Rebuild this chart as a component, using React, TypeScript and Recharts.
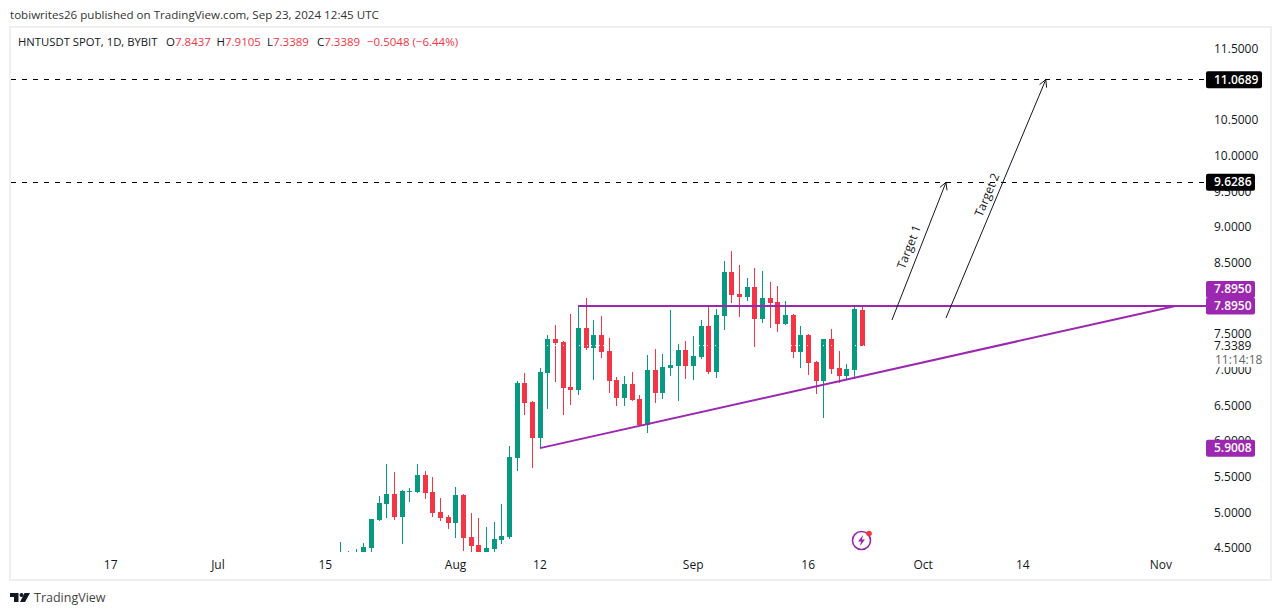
import { ComposedChart, Bar, XAxis, YAxis, ReferenceLine } from 'recharts';

const FONT = '"Open Sans", sans-serif';
const UP = '#089981';
const DOWN = '#f23645';
const PURPLE = '#9c27b0';
const INK = '#131722';

// days counted from Jul 1, first candle is Jul 17
const firstDay = 16;

const opens = [
  4.36, 4.38, 4.38, 4.40, 4.50, 4.89, 5.12, 5.26, 4.93, 5.285,
  5.285, 5.52, 5.285, 5.00, 4.93, 4.85, 5.24, 4.65, 4.54, 4.42,
  4.485, 4.61, 4.65, 5.76, 6.81, 6.55, 6.04, 6.95, 7.43, 7.39,
  6.76, 6.715, 7.585, 7.305, 7.49, 7.26, 6.855, 6.60, 6.80, 6.59,
  6.225, 7.00, 6.67, 7.025, 7.05, 7.28, 7.05, 7.18, 7.61, 6.97,
  7.75, 8.37, 8.06, 8.02, 8.16, 7.71, 8.01, 7.95, 7.64, 7.77,
  7.25, 7.49, 7.11, 6.84, 7.43, 7.025, 6.91, 7.00, 7.8437,
];
const highs = [
  4.58, 4.455, 4.49, 4.57, 4.91, 5.23, 5.68, 5.57, 5.31, 5.34,
  5.68, 5.575, 5.495, 5.20, 4.96, 5.355, 5.26, 4.99, 4.92, 4.79,
  4.86, 5.12, 5.93, 6.84, 6.95, 6.56, 7.02, 7.49, 7.63, 7.40,
  7.78, 7.89, 8.01, 7.70, 7.75, 7.45, 6.90, 6.91, 6.97, 6.65,
  7.21, 7.29, 7.22, 7.84, 7.36, 7.40, 7.47, 7.70, 7.91, 7.85,
  8.53, 8.67, 8.47, 8.29, 8.43, 8.39, 8.23, 8.18, 7.96, 7.78,
  7.61, 7.50, 7.12, 7.43, 7.57, 7.26, 7.08, 7.91, 7.9105,
];
const lows = [
  4.30, 4.32, 4.33, 4.36, 4.43, 4.88, 4.92, 4.89, 4.56, 5.145,
  5.27, 5.19, 4.93, 4.88, 4.77, 4.64, 4.46, 4.43, 4.38, 4.40,
  4.44, 4.56, 4.63, 5.58, 6.37, 5.62, 5.90, 6.45, 6.83, 6.37,
  6.51, 6.65, 7.28, 6.86, 7.16, 6.67, 6.49, 6.49, 6.56, 6.21,
  6.11, 6.53, 6.59, 6.91, 6.56, 6.87, 6.86, 7.15, 6.94, 6.89,
  7.56, 7.94, 7.74, 7.96, 7.32, 7.66, 7.59, 7.53, 7.63, 7.17,
  7.03, 6.93, 6.66, 6.32, 6.94, 6.81, 6.87, 6.87, 7.3389,
];
const closes = [
  4.40, 4.41, 4.42, 4.51, 4.91, 5.13, 5.26, 4.93, 5.30, 5.30,
  5.52, 5.27, 4.99, 4.92, 4.85, 5.24, 4.64, 4.53, 4.40, 4.50,
  4.63, 4.67, 5.78, 6.81, 6.53, 6.04, 6.97, 7.43, 7.375, 6.74,
  6.715, 7.585, 7.305, 7.49, 7.25, 6.84, 6.60, 6.80, 6.575, 6.225,
  7.00, 6.67, 7.04, 7.07, 7.28, 7.05, 7.19, 7.61, 6.97, 7.77,
  8.37, 8.05, 8.02, 8.16, 7.71, 8.01, 7.94, 7.64, 7.77, 7.25,
  7.49, 7.095, 6.84, 7.43, 7.01, 6.91, 7.01, 7.85, 7.3389,
];

const timeTicks = [-14, 0, 14, 31, 42, 62, 77, 92, 105, 123];
const timeLabels = ['17', 'Jul', '15', 'Aug', '12', 'Sep', '16', 'Oct', '14', 'Nov'];
// 8 and 11 are fully hidden behind the price tags in the picture
const priceTicks = [4.5, 5, 5.5, 6, 6.5, 7, 7.5, 8.5, 9, 9.5, 10, 10.5, 11.5];

const dayDomain = [-27, 128.9];
const priceDomain = [4.444, 11.807];

const lastPrice = 7.3389;
const resistance = 7.895;
const support = 5.9008;
const target1 = 9.6286;
const target2 = 11.0689;

const candles = opens.map((open, i) => ({
  day: firstDay + i,
  open,
  close: closes[i],
  high: highs[i],
  low: lows[i],
  range: [lows[i], highs[i]],
}));

const Candle = (props: any) => {
  const { x, y, width, height, payload } = props;
  const top = Math.min(y, y + height);
  const h = Math.abs(height);
  const perUnit = h / (payload.high - payload.low);
  const bodyTop = top + (payload.high - Math.max(payload.open, payload.close)) * perUnit;
  const bodyH = Math.max(1, Math.abs(payload.open - payload.close) * perUnit);
  const cx = Math.round(x + width / 2);
  const color = payload.close >= payload.open ? UP : DOWN;
  return (
    <g shapeRendering="crispEdges">
      <rect x={cx} y={top} width={1} height={h} fill={color} />
      <rect x={cx - 2} y={bodyTop} width={5} height={bodyH} fill={color} />
    </g>
  );
};

// line with an open arrow head and a label along it
const ArrowLine = ({ x1, y1, x2, y2, text, labelX, labelY }: any) => {
  const angle = Math.atan2(y2 - y1, x2 - x1);
  const head = 8;
  const p1 = [x2 - head * Math.cos(angle - 0.5), y2 - head * Math.sin(angle - 0.5)];
  const p2 = [x2 - head * Math.cos(angle + 0.5), y2 - head * Math.sin(angle + 0.5)];
  const deg = (angle * 180) / Math.PI;
  const lx = x1 + (x2 - x1) * labelX - 10;
  const ly = y1 + (y2 - y1) * labelY;
  return (
    <g>
      <line x1={x1} y1={y1} x2={x2} y2={y2} stroke={INK} strokeWidth={1} />
      <path d={`M${p1[0]} ${p1[1]}L${x2} ${y2}L${p2[0]} ${p2[1]}`} fill="none" stroke={INK} />
      <text x={lx} y={ly} transform={`rotate(${deg} ${lx} ${ly})`} textAnchor="middle" fontSize={12} fontFamily={FONT} fill={INK}>
        {text}
      </text>
    </g>
  );
};

const PriceLine = (props: any) => {
  const { x1, y1, x2, y2, dash, color, width, tag, tagColor, tagWidth = 49, tagOffset = 0 } = props;
  const tagY = y1 + tagOffset;
  return (
    <g>
      <line
        x1={x1}
        y1={y1}
        x2={x2}
        y2={y2}
        stroke={color}
        strokeWidth={width}
        strokeDasharray={dash}
        shapeRendering={dash ? 'crispEdges' : undefined}
      />
      {tag && (
        <g>
          <rect x={1206} y={tagY - 8.5} width={tagWidth} height={17} rx={2} fill={tagColor} />
          <text x={1214} y={tagY + 4} fontSize={12} fontFamily={FONT} fontWeight={600} fill="#fff">
            {tag}
          </text>
        </g>
      )}
    </g>
  );
};

const LastPrice = (props: any) => {
  const { x1, y1, x2 } = props;
  return (
    <g>
      <line x1={x1} y1={y1} x2={x2} y2={y1} stroke="#fff" strokeDasharray="1 3" />
      <rect x={1207} y={y1 - 7.5} width={58} height={29} fill="#fff" />
      <text x={1214} y={y1 + 4} fontSize={12} fontFamily={FONT} fill={INK}>
        {lastPrice.toFixed(4)}
      </text>
      <text x={1215} y={y1 + 18.5} fontSize={12} fontFamily={FONT} fill="#666">
        11:14:18
      </text>
    </g>
  );
};

export default function App() {
  return (
    <div style={{ position: 'absolute', left: 0, top: 0, width: 1281, height: 615, background: '#fff', fontFamily: FONT, color: INK, overflow: 'hidden' }}>
      <div style={{ position: 'absolute', left: 10, top: 7, fontSize: 11.6, lineHeight: '16px', color: '#333', whiteSpace: 'nowrap' }}>
        tobiwrites26 published on TradingView.com, Sep 23, 2024 12:45 UTC
      </div>
      <div style={{ position: 'absolute', left: 9, top: 26, width: 1259, height: 551, border: '2px solid #eeeff3' }} />
      <ComposedChart
        width={1281}
        height={615}
        data={candles}
        margin={{ top: 27, right: 0, bottom: 35, left: 11 }}
        style={{ position: 'absolute', left: 0, top: 0 }}
      >
        <XAxis
          type="number"
          dataKey="day"
          domain={dayDomain}
          allowDataOverflow
          ticks={timeTicks}
          tickFormatter={(v: number) => timeLabels[timeTicks.indexOf(v)]}
          interval={0}
          height={28}
          axisLine={false}
          tickLine={false}
          tickSize={0}
          tickMargin={8}
          tick={{ fontSize: 12, fontFamily: FONT, fill: INK }}
        />
        <YAxis
          orientation="right"
          type="number"
          domain={priceDomain}
          allowDataOverflow
          ticks={priceTicks}
          tickFormatter={(v: number) => v.toFixed(4)}
          interval={0}
          width={75}
          axisLine={false}
          tickLine={false}
          tickSize={0}
          tickMargin={8}
          tick={{ fontSize: 12, fontFamily: FONT, fill: INK }}
        />
        <Bar dataKey="range" barSize={7} shape={Candle} isAnimationActive={false} />
      </ComposedChart>
      {/* second layer so the price tags sit on top of the axis labels */}
      <ComposedChart
        width={1281}
        height={615}
        data={candles}
        margin={{ top: 27, right: 75, bottom: 63, left: 11 }}
        style={{ position: 'absolute', left: 0, top: 0 }}
      >
        <XAxis hide type="number" dataKey="day" domain={dayDomain} allowDataOverflow />
        <YAxis hide type="number" domain={priceDomain} allowDataOverflow />
        <ReferenceLine y={lastPrice} shape={LastPrice} />
        <ReferenceLine
          segment={[{ x: dayDomain[0], y: target2 }, { x: dayDomain[1], y: target2 }]}
          shape={(p: any) => <PriceLine {...p} dash="5 6" color="#000" width={1} tag={target2.toFixed(4)} tagColor="#000" tagWidth={56} />}
        />
        <ReferenceLine
          segment={[{ x: dayDomain[0], y: target1 }, { x: dayDomain[1], y: target1 }]}
          shape={(p: any) => <PriceLine {...p} dash="5 6" color="#000" width={1} tag={target1.toFixed(4)} tagColor="#000" />}
        />
        <ReferenceLine
          segment={[{ x: 47, y: resistance }, { x: dayDomain[1], y: resistance }]}
          shape={(p: any) => <PriceLine {...p} color={PURPLE} width={2} tag={resistance.toFixed(4)} tagColor={PURPLE} tagOffset={-16.5} />}
        />
        <ReferenceLine
          segment={[{ x: 47, y: resistance }, { x: dayDomain[1], y: resistance }]}
          shape={(p: any) => <PriceLine {...p} color={PURPLE} width={2} tag={resistance.toFixed(4)} tagColor={PURPLE} />}
        />
        <ReferenceLine
          segment={[{ x: 42, y: support }, { x: 124.9, y: resistance }]}
          shape={(p: any) => <PriceLine {...p} color={PURPLE} width={2} />}
        />
        <ReferenceLine
          y={support}
          shape={(p: any) => <PriceLine {...p} x1={1206} x2={1206} color={PURPLE} width={0} tag={support.toFixed(4)} tagColor={PURPLE} />}
        />
        <ReferenceLine
          segment={[{ x: 87.93, y: 7.698 }, { x: 94.98, y: target1 }]}
          shape={(p: any) => <ArrowLine {...p} text="Target 1" labelX={0.57} labelY={0.52} />}
        />
        <ReferenceLine
          segment={[{ x: 94.98, y: 7.726 }, { x: 108, y: target2 }]}
          shape={(p: any) => <ArrowLine {...p} text="Target 2" labelX={0.55} labelY={0.51} />}
        />
      </ComposedChart>
      <div style={{ position: 'absolute', left: 18, top: 34, fontSize: 11.3, lineHeight: '16px', whiteSpace: 'nowrap' }}>
        HNTUSDT SPOT, 1D, BYBIT
      </div>
      <div style={{ position: 'absolute', left: 166, top: 34, fontSize: 11.5, lineHeight: '16px', whiteSpace: 'nowrap' }}>
        O<span style={{ color: DOWN }}>7.8437</span>
      </div>
      <div style={{ position: 'absolute', left: 216.5, top: 34, fontSize: 11.5, lineHeight: '16px', whiteSpace: 'nowrap' }}>
        H<span style={{ color: DOWN }}>7.9105</span>
      </div>
      <div style={{ position: 'absolute', left: 267, top: 34, fontSize: 11.5, lineHeight: '16px', whiteSpace: 'nowrap' }}>
        L<span style={{ color: DOWN }}>7.3389</span>
      </div>
      <div style={{ position: 'absolute', left: 317, top: 34, fontSize: 11.5, lineHeight: '16px', whiteSpace: 'nowrap' }}>
        C<span style={{ color: DOWN }}>7.3389</span>
      </div>
      <div style={{ position: 'absolute', left: 367, top: 34, fontSize: 11.5, lineHeight: '16px', whiteSpace: 'nowrap', color: DOWN }}>
        −0.5048 (−6.44%)
      </div>
      <svg style={{ position: 'absolute', left: 851, top: 530 }} width={22} height={22} viewBox="0 0 22 22">
        <circle cx={10.5} cy={10.5} r={9} fill="none" stroke={PURPLE} strokeWidth={1.6} />
        <path d="M12 5L7 11.5H10L9 16L14 9.5H11Z" fill={PURPLE} />
        <circle cx={18} cy={3.5} r={2.8} fill={DOWN} />
      </svg>
      <svg style={{ position: 'absolute', left: 10, top: 593 }} width={20} height={9} viewBox="0 0 20 9">
        <path d="M0 0H8.5V9H4V4H0Z M14.5 0H20L15 9H10Z" fill="#131722" />
        <circle cx={11.5} cy={2} r={2} fill="#131722" />
      </svg>
      <div style={{ position: 'absolute', left: 34, top: 589, fontSize: 12.5, lineHeight: '17px', color: '#444' }}>TradingView</div>
    </div>
  );
}
